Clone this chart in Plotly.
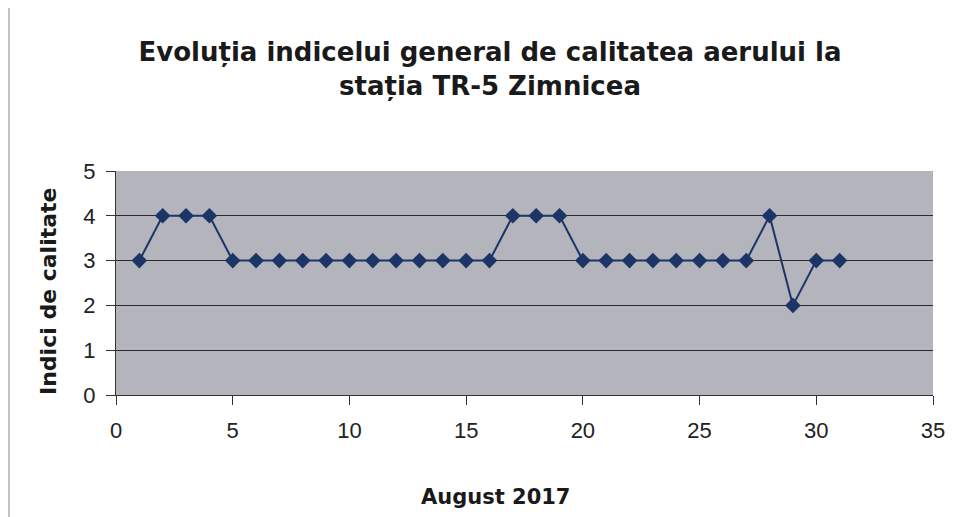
import plotly.graph_objects as go

days = list(range(1, 32))
index_values = [3, 4, 4, 4, 3, 3, 3, 3, 3, 3, 3, 3, 3, 3, 3, 3, 4, 4, 4, 3, 3, 3, 3, 3, 3, 3, 3, 4, 2, 3, 3]
x_ticks = [0, 5, 10, 15, 20, 25, 30, 35]
y_ticks = [0, 1, 2, 3, 4, 5]
title_text = "<b>Evoluția indicelui general de calitatea aerului la<br>stația TR-5 Zimnicea</b>"
x_title = "<b>August 2017</b>"
y_title = "<b>Indici de calitate</b>"

# page has an 8px body margin; figure is sized/placed to compensate
OFF = 8
W, H = 958 - OFF, 517 - OFF
PL, PR, PT, PB = 116, 933, 171, 395  # plot area in page pixels
L, T = PL - OFF, PT - OFF
R, B = 958 - PR, 517 - PB
pw, ph = PR - PL, PB - PT

def px(xp):
    return (xp - PL) / pw

def py(yp):
    return 1 - (yp - PT) / ph

font = "Liberation Sans, Arial, sans-serif"
bold_font = "DejaVu Sans, Liberation Sans, Arial, sans-serif"

fig = go.Figure()
fig.add_trace(go.Scatter(
    x=days, y=index_values, mode="lines+markers",
    line=dict(color="#1c3466", width=2),
    marker=dict(symbol="diamond", size=12, color="#1c3466"),
    showlegend=False,
))

fig.update_layout(
    width=W, height=H,
    margin=dict(l=L, r=R, t=T, b=B, autoexpand=False),
    paper_bgcolor="white",
    plot_bgcolor="#b3b4bc",
    font=dict(family=font, color="#222222"),
    title=dict(text=title_text, x=(490 - OFF) / W, xanchor="center",
               y=1 - (61 - OFF) / H, yanchor="middle",
               font=dict(size=26, family=bold_font, color="#1a1a1a")),
    xaxis=dict(range=[0, 35], tickvals=x_ticks, showgrid=False,
               ticks="outside", ticklen=9, tickcolor="#333", tickfont=dict(size=22),
               ticklabelstandoff=7,
               showline=True, linecolor="#333", linewidth=1, zeroline=False),
    yaxis=dict(range=[0, 5], tickvals=y_ticks, showgrid=True, gridcolor="#2a2a2a",
               gridwidth=1, ticks="outside", ticklen=9, tickcolor="#333", tickfont=dict(size=22),
               ticklabelstandoff=6,
               showline=True, linecolor="#333", linewidth=1, zeroline=False),
)
fig.add_annotation(text=x_title, xref="paper", yref="paper", x=px(495), y=py(497),
                   xanchor="center", yanchor="middle", showarrow=False,
                   font=dict(size=21, family=bold_font, color="#1a1a1a"))
fig.add_annotation(text=y_title, xref="paper", yref="paper", x=px(48), y=py(292),
                   xanchor="center", yanchor="middle", showarrow=False, textangle=-90,
                   font=dict(size=22, family=bold_font, color="#1a1a1a"))
# thin outer chart border on the left
fig.add_shape(type="line", xref="paper", yref="paper",
              x0=px(9), x1=px(9), y0=py(517), y1=py(8),
              line=dict(color="#888", width=1))
fig.write_html("out.html")
